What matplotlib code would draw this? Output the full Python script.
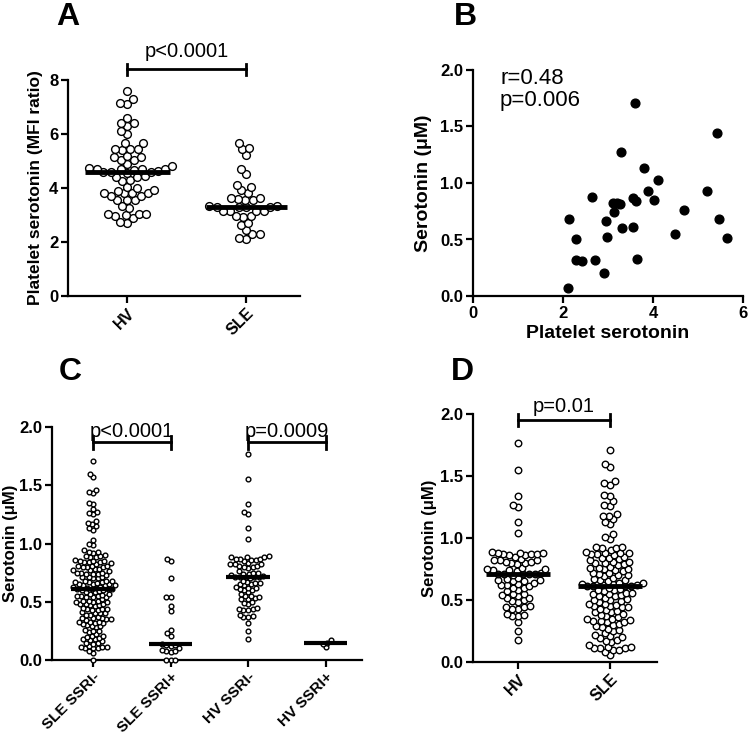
import numpy as np
import matplotlib
matplotlib.use("Agg")
import matplotlib.pyplot as plt

plt.rcParams['font.family'] = ['Liberation Sans', 'DejaVu Sans']

# ---- panel A: platelet serotonin (MFI ratio)
a_groups = ['HV', 'SLE']
a_hv = [7.6, 7.3, 7.15, 7.1, 6.6, 6.4, 6.4, 6.3, 6.1, 6.0, 5.65, 5.65, 5.45, 5.45, 5.45,
        5.4, 5.2, 5.15, 5.15, 5.05, 5.05, 4.9, 4.8, 4.75, 4.72, 4.72, 4.7, 4.7, 4.65, 4.62,
        4.6, 4.6, 4.58, 4.55, 4.45, 4.4, 4.4, 4.3, 4.25, 4.05, 4.0, 3.93, 3.9, 3.82, 3.8,
        3.8, 3.8, 3.7, 3.7, 3.55, 3.55, 3.55, 3.35, 3.25, 3.05, 3.05, 3.05, 3.0, 2.95, 2.9,
        2.75, 2.7]
a_sle = [5.68, 5.49, 5.44, 5.22, 4.72, 4.52, 4.12, 4.05, 3.91, 3.8, 3.63, 3.63, 3.6, 3.55,
         3.55, 3.35, 3.32, 3.3, 3.3, 3.3, 3.28, 3.16, 3.16, 3.16, 3.16, 2.98, 2.98, 2.91,
         2.72, 2.64, 2.44, 2.28, 2.28, 2.16, 2.12]

# ---- panel B: platelet serotonin vs serum serotonin
b_platelet = [2.12, 2.14, 2.29, 2.29, 2.43, 2.64, 2.71, 2.91, 2.95, 2.97, 3.13, 3.12, 3.21,
              3.27, 3.28, 3.30, 3.55, 3.56, 3.61, 3.62, 3.64, 3.79, 3.89, 4.03, 4.10, 4.49,
              4.68, 5.20, 5.42, 5.46, 5.65]
b_serotonin = [0.07, 0.68, 0.50, 0.32, 0.31, 0.88, 0.32, 0.20, 0.66, 0.52, 0.74, 0.82, 0.82,
               0.81, 1.27, 0.60, 0.87, 0.61, 1.71, 0.84, 0.33, 1.13, 0.93, 0.85, 1.03, 0.55,
               0.76, 0.93, 1.44, 0.68, 0.51]

# ---- panel C: serotonin by SSRI use
c_groups = ['SLE SSRI-', 'SLE SSRI+', 'HV SSRI-', 'HV SSRI+']
sle_ssri_neg = [1.71, 1.60, 1.57, 1.46, 1.44, 1.43, 1.35, 1.34, 1.30, 1.27, 1.26, 1.25, 1.19,
                1.18, 1.17, 1.15, 1.13, 1.12, 1.03, 1.00, 0.99,
                0.94, 0.93, 0.93, 0.92, 0.90, 0.89, 0.89, 0.88, 0.88,
                0.86, 0.85, 0.85, 0.85, 0.84, 0.84, 0.84, 0.83,
                0.82, 0.81, 0.81, 0.81, 0.80, 0.80, 0.80, 0.78, 0.78, 0.77, 0.77, 0.76,
                0.75, 0.75, 0.75, 0.74, 0.74, 0.74, 0.73, 0.71, 0.71, 0.71, 0.70, 0.70,
                0.68, 0.68, 0.68, 0.67, 0.67, 0.67, 0.66, 0.65, 0.65, 0.65, 0.64, 0.64, 0.64,
                0.63, 0.63, 0.62, 0.62, 0.61, 0.61, 0.61, 0.61, 0.60, 0.60,
                0.59, 0.58, 0.58, 0.57, 0.57, 0.56, 0.55, 0.55, 0.55, 0.54, 0.54, 0.54,
                0.52, 0.51, 0.51, 0.51, 0.50, 0.50, 0.50, 0.48, 0.48, 0.48, 0.47, 0.47, 0.46,
                0.45, 0.44, 0.44, 0.44, 0.43, 0.43, 0.41, 0.40, 0.40, 0.40, 0.39, 0.39,
                0.37, 0.36, 0.36, 0.36, 0.35, 0.35, 0.34, 0.33, 0.33, 0.33, 0.32, 0.32, 0.31,
                0.30, 0.29, 0.29, 0.28, 0.26, 0.25, 0.25, 0.24, 0.22, 0.21, 0.21, 0.20,
                0.19, 0.18, 0.18, 0.17, 0.16, 0.15, 0.15, 0.14,
                0.12, 0.11, 0.11, 0.11, 0.10, 0.10, 0.10, 0.08, 0.06, 0.0]
sle_ssri_pos = [0.87, 0.85, 0.70, 0.54, 0.54, 0.46, 0.42, 0.26, 0.23, 0.21, 0.14, 0.13, 0.13,
                0.12, 0.10, 0.08, 0.08, 0.07, 0.09, 0.0, 0.0, 0.0]
hv_ssri_neg = [1.77, 1.55, 1.34, 1.27, 1.25, 1.13, 1.04,
               0.89, 0.88, 0.88, 0.88, 0.87, 0.87, 0.87, 0.86, 0.86, 0.85,
               0.83, 0.82, 0.82, 0.82, 0.81, 0.81, 0.80, 0.80, 0.79,
               0.76, 0.75, 0.75, 0.74, 0.74, 0.73,
               0.72, 0.71, 0.71, 0.71, 0.71, 0.71, 0.70,
               0.68, 0.67, 0.66, 0.66, 0.65, 0.65, 0.64,
               0.63, 0.62, 0.62, 0.61, 0.60, 0.60,
               0.58, 0.57, 0.55, 0.55, 0.54, 0.53, 0.52, 0.52,
               0.50, 0.49, 0.48, 0.45, 0.44, 0.44, 0.43, 0.43,
               0.39, 0.38, 0.37, 0.37, 0.32, 0.25, 0.18]
hv_ssri_pos = [0.17, 0.15, 0.14, 0.11]

# ---- panel D: serotonin HV vs SLE
d_groups = ['HV', 'SLE']
d_hv = hv_ssri_neg
d_sle = [1.71, 1.60, 1.57, 1.46, 1.44, 1.43, 1.35, 1.34, 1.30, 1.27, 1.26, 1.19, 1.18, 1.18,
         1.15, 1.13, 1.11, 1.03, 1.01, 0.99,
         0.93, 0.93, 0.92, 0.92, 0.90, 0.89, 0.88, 0.88, 0.88, 0.87, 0.87, 0.86,
         0.85, 0.84, 0.84, 0.83, 0.82, 0.81, 0.81, 0.80, 0.80, 0.79, 0.78, 0.77, 0.76, 0.76,
         0.75, 0.75, 0.74, 0.73, 0.72, 0.72, 0.71, 0.70, 0.70, 0.69, 0.68, 0.67, 0.66, 0.66,
         0.65, 0.64, 0.64, 0.63, 0.63, 0.62, 0.62, 0.61, 0.61, 0.61, 0.61,
         0.60, 0.59, 0.58, 0.58, 0.57, 0.56, 0.56, 0.55, 0.55, 0.54, 0.53, 0.53, 0.52, 0.51,
         0.50, 0.50, 0.49, 0.48, 0.47, 0.47, 0.46, 0.45, 0.45, 0.44, 0.44, 0.43, 0.42, 0.41,
         0.40, 0.40, 0.39, 0.38, 0.37, 0.36, 0.35, 0.35, 0.34, 0.33, 0.33, 0.32, 0.32,
         0.31, 0.30, 0.29, 0.28, 0.27, 0.26, 0.25, 0.23, 0.22, 0.21, 0.20, 0.19, 0.18, 0.17,
         0.16, 0.14, 0.12, 0.12, 0.11, 0.11, 0.11, 0.10, 0.10, 0.08, 0.06]

fig = plt.figure(figsize=(7.5, 7.39), dpi=100)
W, H = 750, 739


def add_ax(left, right, top, bottom):
    return fig.add_axes([left / W, 1 - bottom / H, (right - left) / W, (bottom - top) / H])


def style(ax):
    for s in ['top', 'right']:
        ax.spines[s].set_visible(False)
    for s in ['left', 'bottom']:
        ax.spines[s].set_linewidth(1.6)
    ax.tick_params(width=1.6, length=5, labelsize=12, pad=2)
    for lab in ax.get_xticklabels() + ax.get_yticklabels():
        lab.set_fontweight('bold')


def swarm(ax, xc, vals, ms, gap=1.0):
    t = ax.transData
    x0, y0 = t.transform((0, 0))
    x1, y1 = t.transform((1, 1))
    sx, sy = x1 - x0, y1 - y0
    d = ms * fig.dpi / 72 * gap
    ys = np.sort(np.asarray(vals, dtype=float))
    placed, xs = [], []
    for v in ys:
        py = v * sy
        near = [(px, qy) for px, qy in placed if abs(qy - py) < d]
        cands = [0.0]
        for px, qy in near:
            dx = np.sqrt(d * d - (qy - py) ** 2)
            cands += [px - dx, px + dx]
        cands.sort(key=abs)
        for c in cands:
            if all((c - px) ** 2 + (py - qy) ** 2 >= d * d - 1e-6 for px, qy in near):
                break
        placed.append((c, py))
        xs.append(xc + c / sx)
    ax.plot(xs, ys, 'o', ms=ms, mfc='white', mec='black', mew=1.0, zorder=3, clip_on=False)


def median_line(ax, xc, vals, half, lw):
    m = np.median(vals)
    ax.plot([xc - half, xc + half], [m, m], color='black', lw=lw, zorder=4, solid_capstyle='butt')


def sig_bar(ax, x1, x2, y, h, txt, ty, fs=14.5):
    kw = dict(color='black', lw=2, clip_on=False)
    ax.plot([x1, x2], [y, y], **kw)
    ax.plot([x1, x1], [y - h, y + h], **kw)
    ax.plot([x2, x2], [y - h, y + h], **kw)
    ax.text((x1 + x2) / 2, ty, txt, ha='center', va='bottom', fontsize=fs)


def xcats(ax, labels, fs=11.5):
    ax.set_xticks(range(len(labels)))
    ax.set_xticklabels(labels, rotation=45, ha='right', rotation_mode='anchor',
                       fontweight='bold', fontsize=fs)


# Panel A
axA = add_ax(68, 300, 80, 296)
axA.set_xlim(-0.5, 1.45)
axA.set_ylim(0, 8)
axA.set_yticks([0, 2, 4, 6, 8])
style(axA)
xcats(axA, a_groups)
swarm(axA, 0, a_hv, 5.6, 0.95)
swarm(axA, 1, a_sle, 5.6, 0.95)
median_line(axA, 0, a_hv, 0.36, 3.5)
median_line(axA, 1, a_sle, 0.34, 3.5)
sig_bar(axA, 0, 1, 8.4, 0.2, 'p<0.0001', 8.7)
axA.set_ylabel('Platelet serotonin (MFI ratio)', fontsize=12.5, fontweight='bold')
axA.yaxis.set_label_coords(-0.108, 0.5)

# Panel B
axB = add_ax(473, 743, 70, 296)
axB.set_xlim(0, 6)
axB.set_ylim(0, 2.0)
axB.set_xticks([0, 2, 4, 6])
axB.set_yticks([0, 0.5, 1.0, 1.5, 2.0])
axB.set_yticklabels(['0.0', '0.5', '1.0', '1.5', '2.0'])
style(axB)
axB.plot(b_platelet, b_serotonin, 'o', ms=6.3, color='black', clip_on=False)
axB.text(0.6, 2.02, 'r=0.48\np=0.006', ha='left', va='top', fontsize=16, linespacing=1.1)
axB.set_xlabel('Platelet serotonin', fontsize=14, fontweight='bold', labelpad=3)
axB.set_ylabel('Serotonin (\u03bcM)', fontsize=14, fontweight='bold')
axB.yaxis.set_label_coords(-0.152, 0.5)

# Panel C
axC = add_ax(52, 362, 427, 660)
axC.set_xlim(-0.53, 3.47)
axC.set_ylim(0, 2.0)
axC.set_yticks([0, 0.5, 1.0, 1.5, 2.0])
axC.set_yticklabels(['0.0', '0.5', '1.0', '1.5', '2.0'])
style(axC)
xcats(axC, c_groups, fs=11)
c_data = [sle_ssri_neg, sle_ssri_pos, hv_ssri_neg, hv_ssri_pos]
for i, vals in enumerate(c_data):
    swarm(axC, i, vals, 3.4, 0.97)
    median_line(axC, i, vals, 0.28, 3)
sig_bar(axC, 0, 1, 1.87, 0.055, 'p<0.0001', 1.88)
sig_bar(axC, 2, 3, 1.87, 0.055, 'p=0.0009', 1.88)
axC.set_ylabel('Serotonin (\u03bcM)', fontsize=12, fontweight='bold')
axC.yaxis.set_label_coords(-0.11, 0.5)

# Panel D
axD = add_ax(473, 657, 414, 662)
axD.set_xlim(-0.49, 1.51)
axD.set_ylim(0, 2.0)
axD.set_yticks([0, 0.5, 1.0, 1.5, 2.0])
axD.set_yticklabels(['0.0', '0.5', '1.0', '1.5', '2.0'])
style(axD)
xcats(axD, d_groups)
swarm(axD, 0, d_hv, 4.7, 0.92)
swarm(axD, 1, d_sle, 4.7, 0.92)
median_line(axD, 0, d_hv, 0.35, 3.5)
median_line(axD, 1, d_sle, 0.35, 3.5)
sig_bar(axD, 0, 1, 1.95, 0.05, 'p=0.01', 1.98)
axD.set_ylabel('Serotonin (\u03bcM)', fontsize=12, fontweight='bold')
axD.yaxis.set_label_coords(-0.196, 0.5)

# panel letters
for lab, x, y in [('A', 68, 17), ('B', 465, 17), ('C', 70, 372), ('D', 462, 372)]:
    fig.text(x / W, 1 - y / H, lab, fontsize=23, fontweight='bold', ha='center', va='center')

fig.savefig('out.png', dpi=100)
